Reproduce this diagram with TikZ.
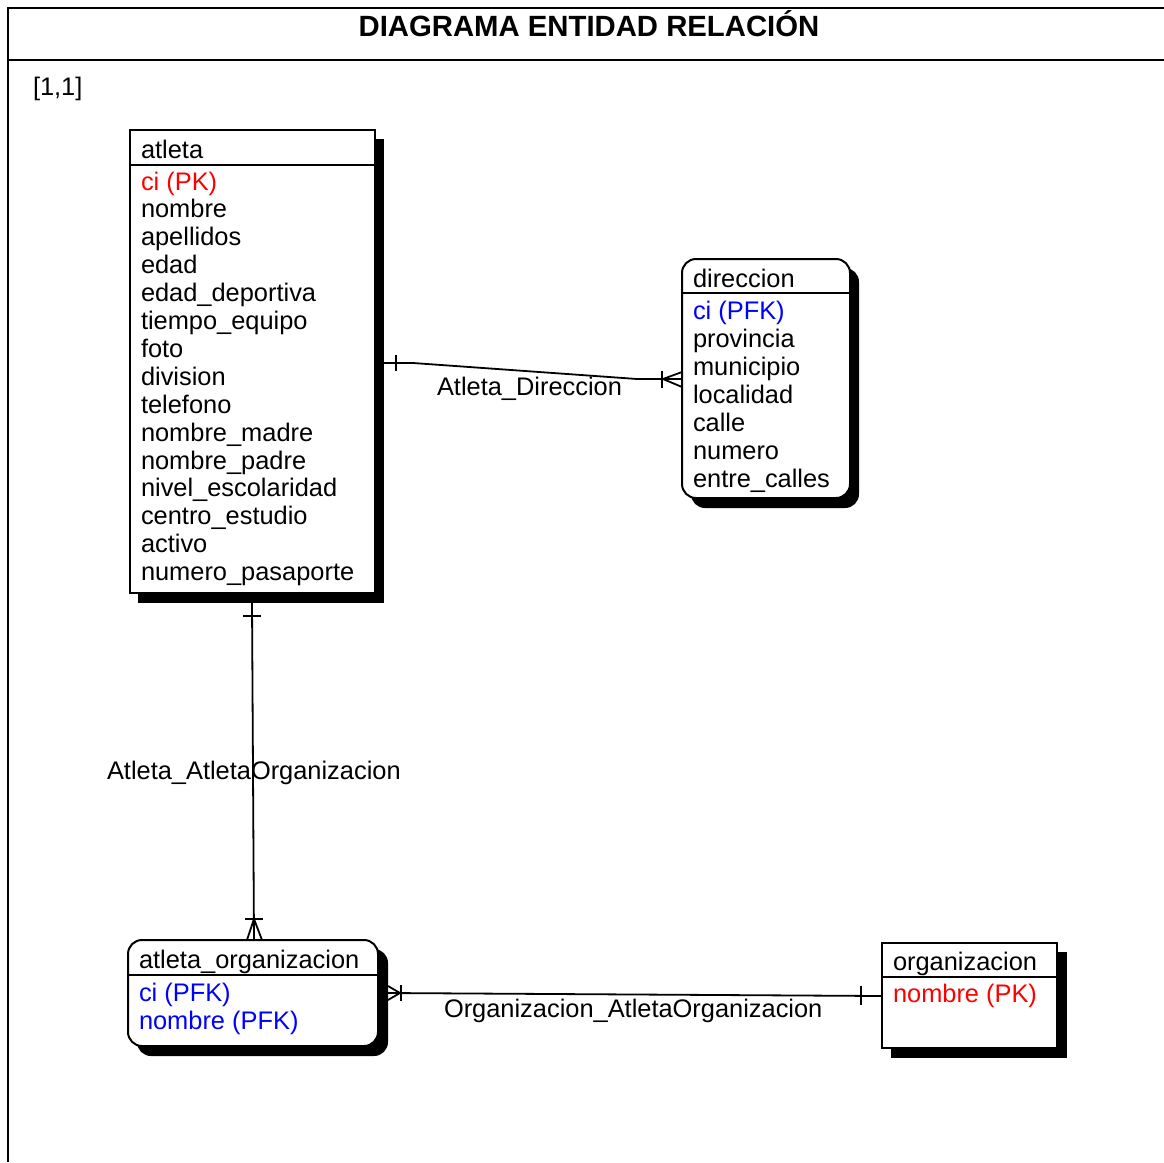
\documentclass[tikz,border=0pt]{standalone}
\usepackage{fontspec}
\setmainfont{Liberation Sans}
\begin{document}
\begin{tikzpicture}[x=1pt,y=-1pt,
  every node/.style={inner sep=0pt, outer sep=0pt},
  txt/.style={font=\fontsize{25.4}{28}\selectfont, anchor=base west},
  pk/.style={txt, text=red},
  fk/.style={txt, text=blue},
  entbox/.style={draw, line width=2pt, fill=white, anchor=north west},
  entshadow/.style={fill=black, anchor=north west},
  depbox/.style={entbox, rounded corners=14pt},
  depshadow/.style={entshadow, rounded corners=14pt},
  sep/.style={line width=2pt},
  rel/.style={line width=1.8pt},
  frame/.style={line width=2pt}]
\useasboundingbox (0,0) rectangle (1164,1162);

% page frame and title
\draw[frame] (8,1162) -- (8,8) -- (1164,8);
\draw[frame] (8,60) -- (1164,60);
\node[font=\bfseries\fontsize{29.3}{30}\selectfont, anchor=base] (title) at (589,36) {DIAGRAMA ENTIDAD RELACIÓN};
\node[txt] (level) at (33,95) {[1,1]};

% ---- entity shadows and boxes
\node[entshadow, minimum width=246pt, minimum height=464pt] (atleta-sh) at (138,139) {};
\node[depshadow, minimum width=168pt, minimum height=240pt] (dir-sh) at (691,268) {};
\node[depshadow, minimum width=251pt, minimum height=107pt] (aorg-sh) at (137,949) {};
\node[entshadow, minimum width=176pt, minimum height=106pt] (org-sh) at (891,952) {};

\node[entbox, minimum width=245pt, minimum height=463pt] (atleta) at (130,130) {};
\node[depbox, minimum width=168pt, minimum height=239pt] (dir) at (682,259) {};
\node[depbox, minimum width=250pt, minimum height=106pt] (aorg) at (128,940) {};
\node[entbox, minimum width=175pt, minimum height=105pt] (org) at (882,943) {};

% ---- relationships
% Atleta_Direccion
\draw[rel] (atleta-sh.east |- 0,363) -- (413,363) -- (637,379) -- (dir.west |- 0,379);
\draw[rel] (396,355) -- (396,371);
\draw[rel] (662,371) -- (662,388);
\draw[rel] (663,379) -- (dir.west |- 0,372);
\draw[rel] (663,379) -- (dir.west |- 0,387);
\node[txt] (lab-ad) at (437,395) {Atleta\_Direccion};

% Atleta_AtletaOrganizacion
\draw[rel] (atleta-sh.south -| 252,0) -- (aorg.north -| 254,0);
\draw[rel] (243,616) -- (261,616);
\draw[rel] (245,919) -- (263,919);
\draw[rel] (254,919) -- (aorg.north -| 247,0);
\draw[rel] (254,919) -- (aorg.north -| 262,0);
\node[txt] (lab-aao) at (107,779) {Atleta\_AtletaOrganizacion};

% Organizacion_AtletaOrganizacion
\draw[rel] (aorg-sh.east |- 0,993) -- (org.west |- 0,996);
\draw[rel] (401,985) -- (401,1001);
\draw[rel] (400,993) -- (aorg-sh.east |- 0,986);
\draw[rel] (400,993) -- (aorg-sh.east |- 0,1000);
\draw[rel] (861,986) -- (861,1005);
\node[txt] (lab-oao) at (444,1017) {Organizacion\_AtletaOrganizacion};

% ---- atleta
\draw[sep] (atleta.west |- 0,165) -- (atleta.east |- 0,165);
\node[txt] (atleta-h) at (141,158) {atleta};
\node[pk] (atleta-a1) at (141,190) {ci (PK)};
\foreach \t [count=\i from 2] in {nombre,apellidos,edad,edad\_deportiva,tiempo\_equipo,foto,division,telefono,nombre\_madre,nombre\_padre,nivel\_escolaridad,centro\_estudio,activo,numero\_pasaporte}
  \node[txt] (atleta-a\i) at (141,{190+27.9*(\i-1)}) {\t};

% ---- direccion
\draw[sep] (dir.west |- 0,293) -- (dir.east |- 0,293);
\node[txt] (dir-h) at (693,287) {direccion};
\node[fk] (dir-a1) at (693,319) {ci (PFK)};
\foreach \t [count=\i from 2] in {provincia,municipio,localidad,calle,numero,entre\_calles}
  \node[txt] (dir-a\i) at (693,{319+28*(\i-1)}) {\t};

% ---- atleta_organizacion
\draw[sep] (aorg.west |- 0,975) -- (aorg.east |- 0,975);
\node[txt] (aorg-h) at (139,968) {atleta\_organizacion};
\node[fk] (aorg-a1) at (139,1001) {ci (PFK)};
\node[fk] (aorg-a2) at (139,1029) {nombre (PFK)};

% ---- organizacion
\draw[sep] (org.west |- 0,977) -- (org.east |- 0,977);
\node[txt] (org-h) at (893,970) {organizacion};
\node[pk] (org-a1) at (893,1002) {nombre (PK)};
\end{tikzpicture}
\end{document}
